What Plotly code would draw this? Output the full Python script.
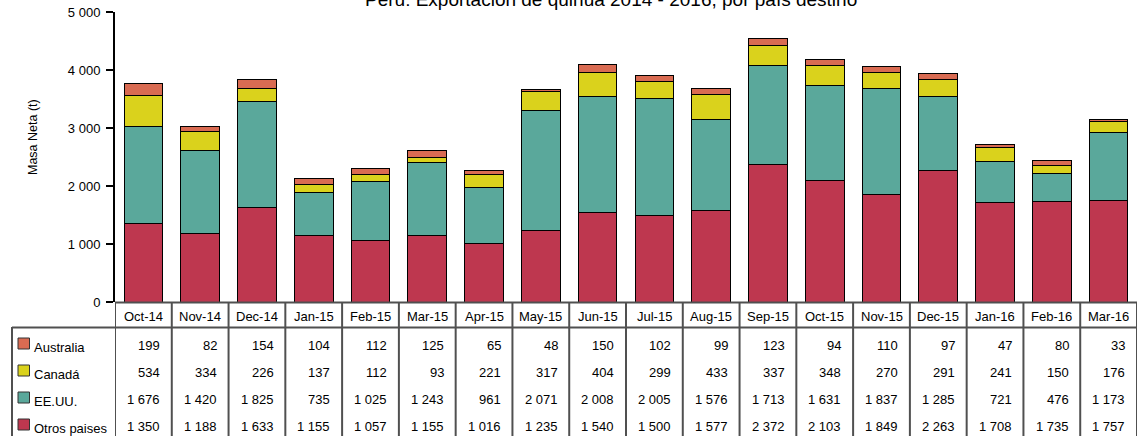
import plotly.graph_objects as go

categories = ["Oct-14", "Nov-14", "Dec-14", "Jan-15", "Feb-15", "Mar-15", "Apr-15", "May-15", "Jun-15",
              "Jul-15", "Aug-15", "Sep-15", "Oct-15", "Nov-15", "Dec-15", "Jan-16", "Feb-16", "Mar-16"]
australia = [199, 82, 154, 104, 112, 125, 65, 48, 150, 102, 99, 123, 94, 110, 97, 47, 80, 33]
canada = [534, 334, 226, 137, 112, 93, 221, 317, 404, 299, 433, 337, 348, 270, 291, 241, 150, 176]
eeuu = [1676, 1420, 1825, 735, 1025, 1243, 961, 2071, 2008, 2005, 1576, 1713, 1631, 1837, 1285, 721, 476, 1173]
otros = [1350, 1188, 1633, 1155, 1057, 1155, 1016, 1235, 1540, 1500, 1577, 2372, 2103, 1849, 2263, 1708, 1735, 1757]

series_names = ["Australia", "Canadá", "EE.UU.", "Otros paises"]
series_values = [australia, canada, eeuu, otros]
series_colors = ["#D96B52", "#DAD21C", "#5AA89B", "#BE374F"]
y_ticks = [0, 1000, 2000, 3000, 4000, 5000]

title = "Perú: Exportación de quinua 2014 - 2016, por país destino"
y_title = "Masa Neta (t)"

W, H = 1138, 436
FONT = "Liberation Sans, Arial, sans-serif"
FS = 13


def fmt(v):
    return f"{v:,}".replace(",", " ")


def py(p):
    return (H - p) / H


def px(p):
    return p / W


fig = go.Figure()
# stack bottom to top: Otros, EE.UU., Canadá, Australia
for name, vals, col in reversed(list(zip(series_names, series_values, series_colors))):
    fig.add_trace(go.Bar(
        x=list(range(len(categories))), y=vals, name=name,
        marker=dict(color=col, line=dict(color="black", width=1)),
        width=0.68, hovertext=categories,
    ))

shapes = []
annotations = []
n = len(categories)
line_col = "#505050"

# table grid
for i in range(n + 1):
    shapes.append(dict(type="line", xref="x", yref="paper", x0=i - 0.5, x1=i - 0.5,
                       y0=py(302), y1=py(437), line=dict(color=line_col, width=2)))
shapes.append(dict(type="line", xref="x", yref="paper", x0=-0.5, x1=n - 0.5,
                   y0=py(302.5), y1=py(302.5), line=dict(color=line_col, width=2)))
shapes.append(dict(type="line", xref="paper", yref="paper", x0=px(12), x1=px(1137),
                   y0=py(327.5), y1=py(327.5), line=dict(color=line_col, width=2)))
shapes.append(dict(type="line", xref="paper", yref="paper", x0=px(12), x1=px(12),
                   y0=py(327), y1=py(437), line=dict(color=line_col, width=2)))

# header categories
for i, c in enumerate(categories):
    annotations.append(dict(x=i, y=py(316.5), xref="x", yref="paper", text=c, showarrow=False,
                            xanchor="center", yanchor="middle", font=dict(size=FS, color="black", family=FONT)))

row_y = [345, 372, 399, 426]
for r, (name, vals, col) in enumerate(zip(series_names, series_values, series_colors)):
    yc = row_y[r]
    shapes.append(dict(type="rect", xref="paper", yref="paper", x0=px(18), x1=px(29.5),
                       y0=py(yc + 4), y1=py(yc - 7), fillcolor=col, line=dict(color="#333333", width=1)))
    annotations.append(dict(x=px(32), y=py(yc + 2), xref="paper", yref="paper", text=name, showarrow=False,
                            xanchor="left", yanchor="middle", font=dict(size=FS, color="black", family=FONT)))
    for i, v in enumerate(vals):
        annotations.append(dict(x=i + 0.5 - 0.17, y=py(yc), xref="x", yref="paper", text=fmt(v),
                                showarrow=False, xanchor="right", yanchor="middle",
                                font=dict(size=FS, color="black", family=FONT)))

annotations.append(dict(x=px(611), y=py(-1), xref="paper", yref="paper", text=title, showarrow=False,
                        xanchor="center", yanchor="middle", font=dict(size=19, color="black", family=FONT)))
annotations.append(dict(x=px(33), y=py(137), xref="paper", yref="paper", text=y_title, showarrow=False,
                        textangle=-90, xanchor="center", yanchor="middle",
                        font=dict(size=12.5, color="black", family=FONT)))

fig.update_layout(
    width=W, height=H, margin=dict(l=0, r=0, t=0, b=0, autoexpand=False),
    paper_bgcolor="white", plot_bgcolor="white",
    barmode="stack", showlegend=False,
    xaxis=dict(domain=[px(115), px(1137)], range=[-0.5, n - 0.5], showticklabels=False,
               showgrid=False, zeroline=False, showline=False, ticks="", automargin=False),
    yaxis=dict(domain=[py(302), py(12)], range=[0, 5000], tickvals=y_ticks,
               ticktext=[fmt(v) for v in y_ticks], showgrid=False, zeroline=False,
               showline=True, linecolor="black", linewidth=2, ticks="outside", ticklen=7,
               tickwidth=2, tickcolor="black", ticklabelstandoff=3, automargin=False,
               tickfont=dict(size=FS, color="black", family=FONT)),
    shapes=shapes, annotations=annotations,
)

fig.write_html("out.html", config={"responsive": False, "displayModeBar": False},
               post_script="document.body.style.margin='0';document.body.style.padding='0';"
                           "document.documentElement.style.overflow='hidden';")
